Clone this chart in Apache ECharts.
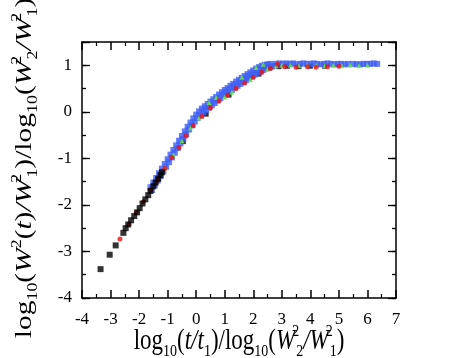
<!DOCTYPE html>
<html>
<head>
<meta charset="utf-8">
<script src="https://cdn.jsdelivr.net/npm/echarts@6/dist/echarts.min.js"></script>
<style>
  html, body { margin: 0; padding: 0; background: #fff; }
  #chart { width: 463px; height: 358px; }
</style>
</head>
<body>
<div id="chart"></div>
<script>
// 数据
var blackPts = [
  [-3.35, -3.38], [-3.03, -3.07], [-2.82, -2.87], [-2.55, -2.6], [-2.47, -2.5],
  [-2.38, -2.42], [-2.28, -2.33], [-2.17, -2.24], [-2.07, -2.16], [-1.98, -2.07],
  [-1.88, -1.97], [-1.78, -1.88], [-1.68, -1.79], [-1.6, -1.7], [-1.5, -1.6],
  [-1.42, -1.52], [-1.33, -1.44], [-1.25, -1.36], [-1.2, -1.3]
];
// black points hidden under the band
var blackBandPts = [
  [-0.45, -0.64], [0.35, -0.05], [1.15, 0.36], [2.2, 0.81],
  [2.9, 0.97], [3.2, 0.98], [3.6, 0.97], [4.0, 0.98], [4.5, 0.98]
];
var redPts = [
  [-2.67, -2.73], [-2.35, -2.41], [-2.1, -2.17], [-1.85, -1.93], [-1.6, -1.68],
  [-1.35, -1.47], [-1.1, -1.22], [-0.85, -0.98], [-0.6, -0.77], [-0.35, -0.52],
  [-0.1, -0.3], [0.2, -0.1], [0.5, 0.08], [0.8, 0.24], [1.1, 0.36],
  [1.4, 0.5], [1.7, 0.62], [2.0, 0.74], [2.3, 0.85], [2.6, 0.93],
  [2.85, 1.02], [3.1, 0.97], [3.5, 0.96], [3.9, 0.97], [4.2, 0.96], [4.6, 0.97], [5.0, 0.98]
];
var greenPts = [
  [-1.1, -1.2], [-0.8, -0.92], [-0.5, -0.62], [-0.2, -0.34], [0.1, -0.13],
  [0.45, 0.2], [0.7, 0.31], [1.0, 0.32], [1.25, 0.42], [1.6, 0.74],
  [1.9, 0.69], [2.1, 0.95], [2.35, 1.02], [2.5, 0.92], [2.8, 0.99],
  [3.0, 1.0], [3.3, 1.0], [3.6, 0.99], [3.9, 1.0], [4.2, 1.0],
  [4.5, 0.99], [4.8, 1.0], [5.1, 0.99], [5.4, 1.0], [5.7, 0.99], [6.0, 1.0]
];
var bluePts = [
  // upper edge of the band
  [-1.6, -1.62], [-1.5, -1.52], [-1.4, -1.42], [-1.3, -1.32], [-1.2, -1.22],
  [-1.1, -1.12], [-1.0, -1.02], [-0.9, -0.92], [-0.8, -0.82], [-0.7, -0.72],
  [-0.6, -0.62], [-0.5, -0.52], [-0.4, -0.42], [-0.3, -0.32], [-0.2, -0.23],
  [-0.1, -0.14], [0.0, -0.06], [0.1, 0.01], [0.2, 0.07], [0.3, 0.12],
  [0.4, 0.17], [0.5, 0.22], [0.6, 0.27], [0.7, 0.32], [0.8, 0.37],
  [0.9, 0.42], [1.0, 0.47], [1.1, 0.51], [1.2, 0.56], [1.3, 0.6],
  [1.4, 0.65], [1.5, 0.69], [1.6, 0.73], [1.7, 0.77], [1.8, 0.81],
  [1.9, 0.85], [2.0, 0.89], [2.1, 0.93], [2.2, 0.96], [2.3, 0.99],
  [2.4, 1.01], [2.5, 1.02], [2.6, 1.03],
  // lower edge of the band
  [-1.55, -1.68], [-1.45, -1.58], [-1.35, -1.48], [-1.25, -1.38], [-1.15, -1.28],
  [-1.05, -1.18], [-0.95, -1.08], [-0.85, -0.98], [-0.75, -0.88], [-0.65, -0.78],
  [-0.55, -0.68], [-0.45, -0.58], [-0.35, -0.48], [-0.25, -0.38], [-0.15, -0.29],
  [-0.05, -0.21], [0.05, -0.13], [0.15, -0.07], [0.25, -0.01], [0.35, 0.04],
  [0.45, 0.09], [0.55, 0.14], [0.65, 0.19], [0.75, 0.24], [0.85, 0.29],
  [0.95, 0.34], [1.05, 0.38], [1.15, 0.43], [1.25, 0.47], [1.35, 0.52],
  [1.45, 0.56], [1.55, 0.6], [1.65, 0.64], [1.75, 0.68], [1.85, 0.72],
  [1.95, 0.76], [2.05, 0.8], [2.15, 0.84], [2.25, 0.87], [2.35, 0.9],
  [2.45, 0.93], [2.55, 0.95], [2.65, 0.97], [2.75, 0.99],
  // plateau
  [2.8, 1.03], [2.92, 1.04], [3.04, 1.03], [3.16, 1.04], [3.28, 1.03],
  [3.4, 1.04], [3.52, 1.02], [3.64, 1.03], [3.76, 1.04], [3.88, 1.03],
  [4.0, 1.03], [4.12, 1.04], [4.24, 1.03], [4.36, 1.02], [4.48, 1.03],
  [4.6, 1.04], [4.72, 1.03], [4.84, 1.02], [4.96, 1.03], [5.08, 1.03],
  [5.2, 1.02], [5.32, 1.03], [5.5, 1.03], [5.62, 1.02], [5.74, 1.02],
  [5.86, 1.03], [5.98, 1.03], [6.1, 1.03], [6.22, 1.04], [6.34, 1.03]
];

var xMin = -4, xMax = 7;
var yMin = -4, yMax = 1.5;

var serif = 'Liberation Serif';

var rich = {
  n: { fontFamily: serif, fontSize: 23, fill: '#000', lineHeight: 30 },
  i: { fontFamily: serif, fontSize: 23, fontStyle: 'italic', fill: '#000', lineHeight: 30 },
  s: { fontFamily: serif, fontSize: 14, fill: '#000', verticalAlign: 'bottom', lineHeight: 30 },
  p: { fontFamily: serif, fontSize: 14, fill: '#000', verticalAlign: 'top', lineHeight: 30, width: 1 },
  q: { fontFamily: serif, fontSize: 14, fill: '#000', verticalAlign: 'top', lineHeight: 30 }
};

var xTitle = '{n|log}{s|10}{n|(}{i|t/t}{s|1}{n|)/log}{s|10}{n|(}{i|W}{p|2}{s|2}{i|/W}{p|2}{s|1}{n|)}';
var yTitle = '{n|log}{s|10}{n|(}{i|W}{q|2}{n|(}{i|t}{n|)}{i|/W}{p|2}{s|1}{n|)/log}{s|10}{n|(}{i|W}{p|2}{s|2}{i|/W}{p|2}{s|1}{n|)}';

var lineStyle = { color: '#000', width: 1.5 };

function makeX(pos, showLabel) {
  return {
    type: 'value', position: pos, min: xMin, max: xMax, interval: 1,
    axisLine: { show: true, onZero: false, lineStyle: lineStyle },
    axisTick: { show: true, inside: true, length: 8, lineStyle: lineStyle },
    minorTick: { show: true, splitNumber: 2, length: 4, lineStyle: { color: '#000', width: 1.2 } },
    axisLabel: { show: showLabel, fontFamily: serif, fontSize: 17, color: '#000', margin: 13 },
    splitLine: { show: false }
  };
}
function makeY(pos, interval, len, showLine, showLabel) {
  return {
    type: 'value', position: pos, min: yMin, max: yMax, interval: interval,
    axisLine: { show: showLine, onZero: false, lineStyle: lineStyle },
    axisTick: { show: true, inside: true, length: len, lineStyle: { color: '#000', width: 1.3 } },
    axisLabel: {
      show: showLabel, fontFamily: serif, fontSize: 17, color: '#000', margin: 10,
      formatter: function (v) { return Number.isInteger(v) ? String(v) : ''; }
    },
    splitLine: { show: false }
  };
}

var chart = echarts.init(document.getElementById('chart'), null, { renderer: 'canvas' });

chart.setOption({
  animation: false,
  backgroundColor: '#fff',
  grid: { left: 82, right: 67, top: 42, bottom: 60, containLabel: false, outerBoundsMode: 'none' },
  xAxis: [makeX('bottom', true), makeX('top', false)],
  yAxis: [
    makeY('left', 1, 8, true, true),
    makeY('left', 0.5, 4, false, false),
    makeY('right', 1, 8, true, false),
    makeY('right', 0.5, 4, false, false)
  ],
  // 轴标题 (原图横向被压缩, 所以用 scale 拉伸)
  graphic: [
    {
      type: 'text', x: 239, y: 341, scaleX: 1, scaleY: 1.25,
      style: { text: xTitle, rich: rich, align: 'center', verticalAlign: 'middle' }
    },
    {
      type: 'text', x: 25, y: 168, rotation: Math.PI / 2, scaleX: 1.28, scaleY: 1,
      style: { text: yTitle, rich: rich, align: 'center', verticalAlign: 'middle' }
    }
  ],
  series: [
    { type: 'scatter', data: blackBandPts, symbol: 'rect', symbolSize: 5, itemStyle: { color: '#000' } },
    { type: 'scatter', data: bluePts, symbol: 'rect', symbolSize: 6, itemStyle: { color: '#3d5ef5' } },
    { type: 'scatter', data: greenPts, symbol: 'triangle', symbolSize: 5, itemStyle: { color: '#66ee33' } },
    { type: 'scatter', data: redPts, symbol: 'circle', symbolSize: 5, itemStyle: { color: '#ee1111' } },
    { type: 'scatter', data: blackPts, symbol: 'rect', symbolSize: 6, itemStyle: { color: '#000' } }
  ]
});
</script>
</body>
</html>
